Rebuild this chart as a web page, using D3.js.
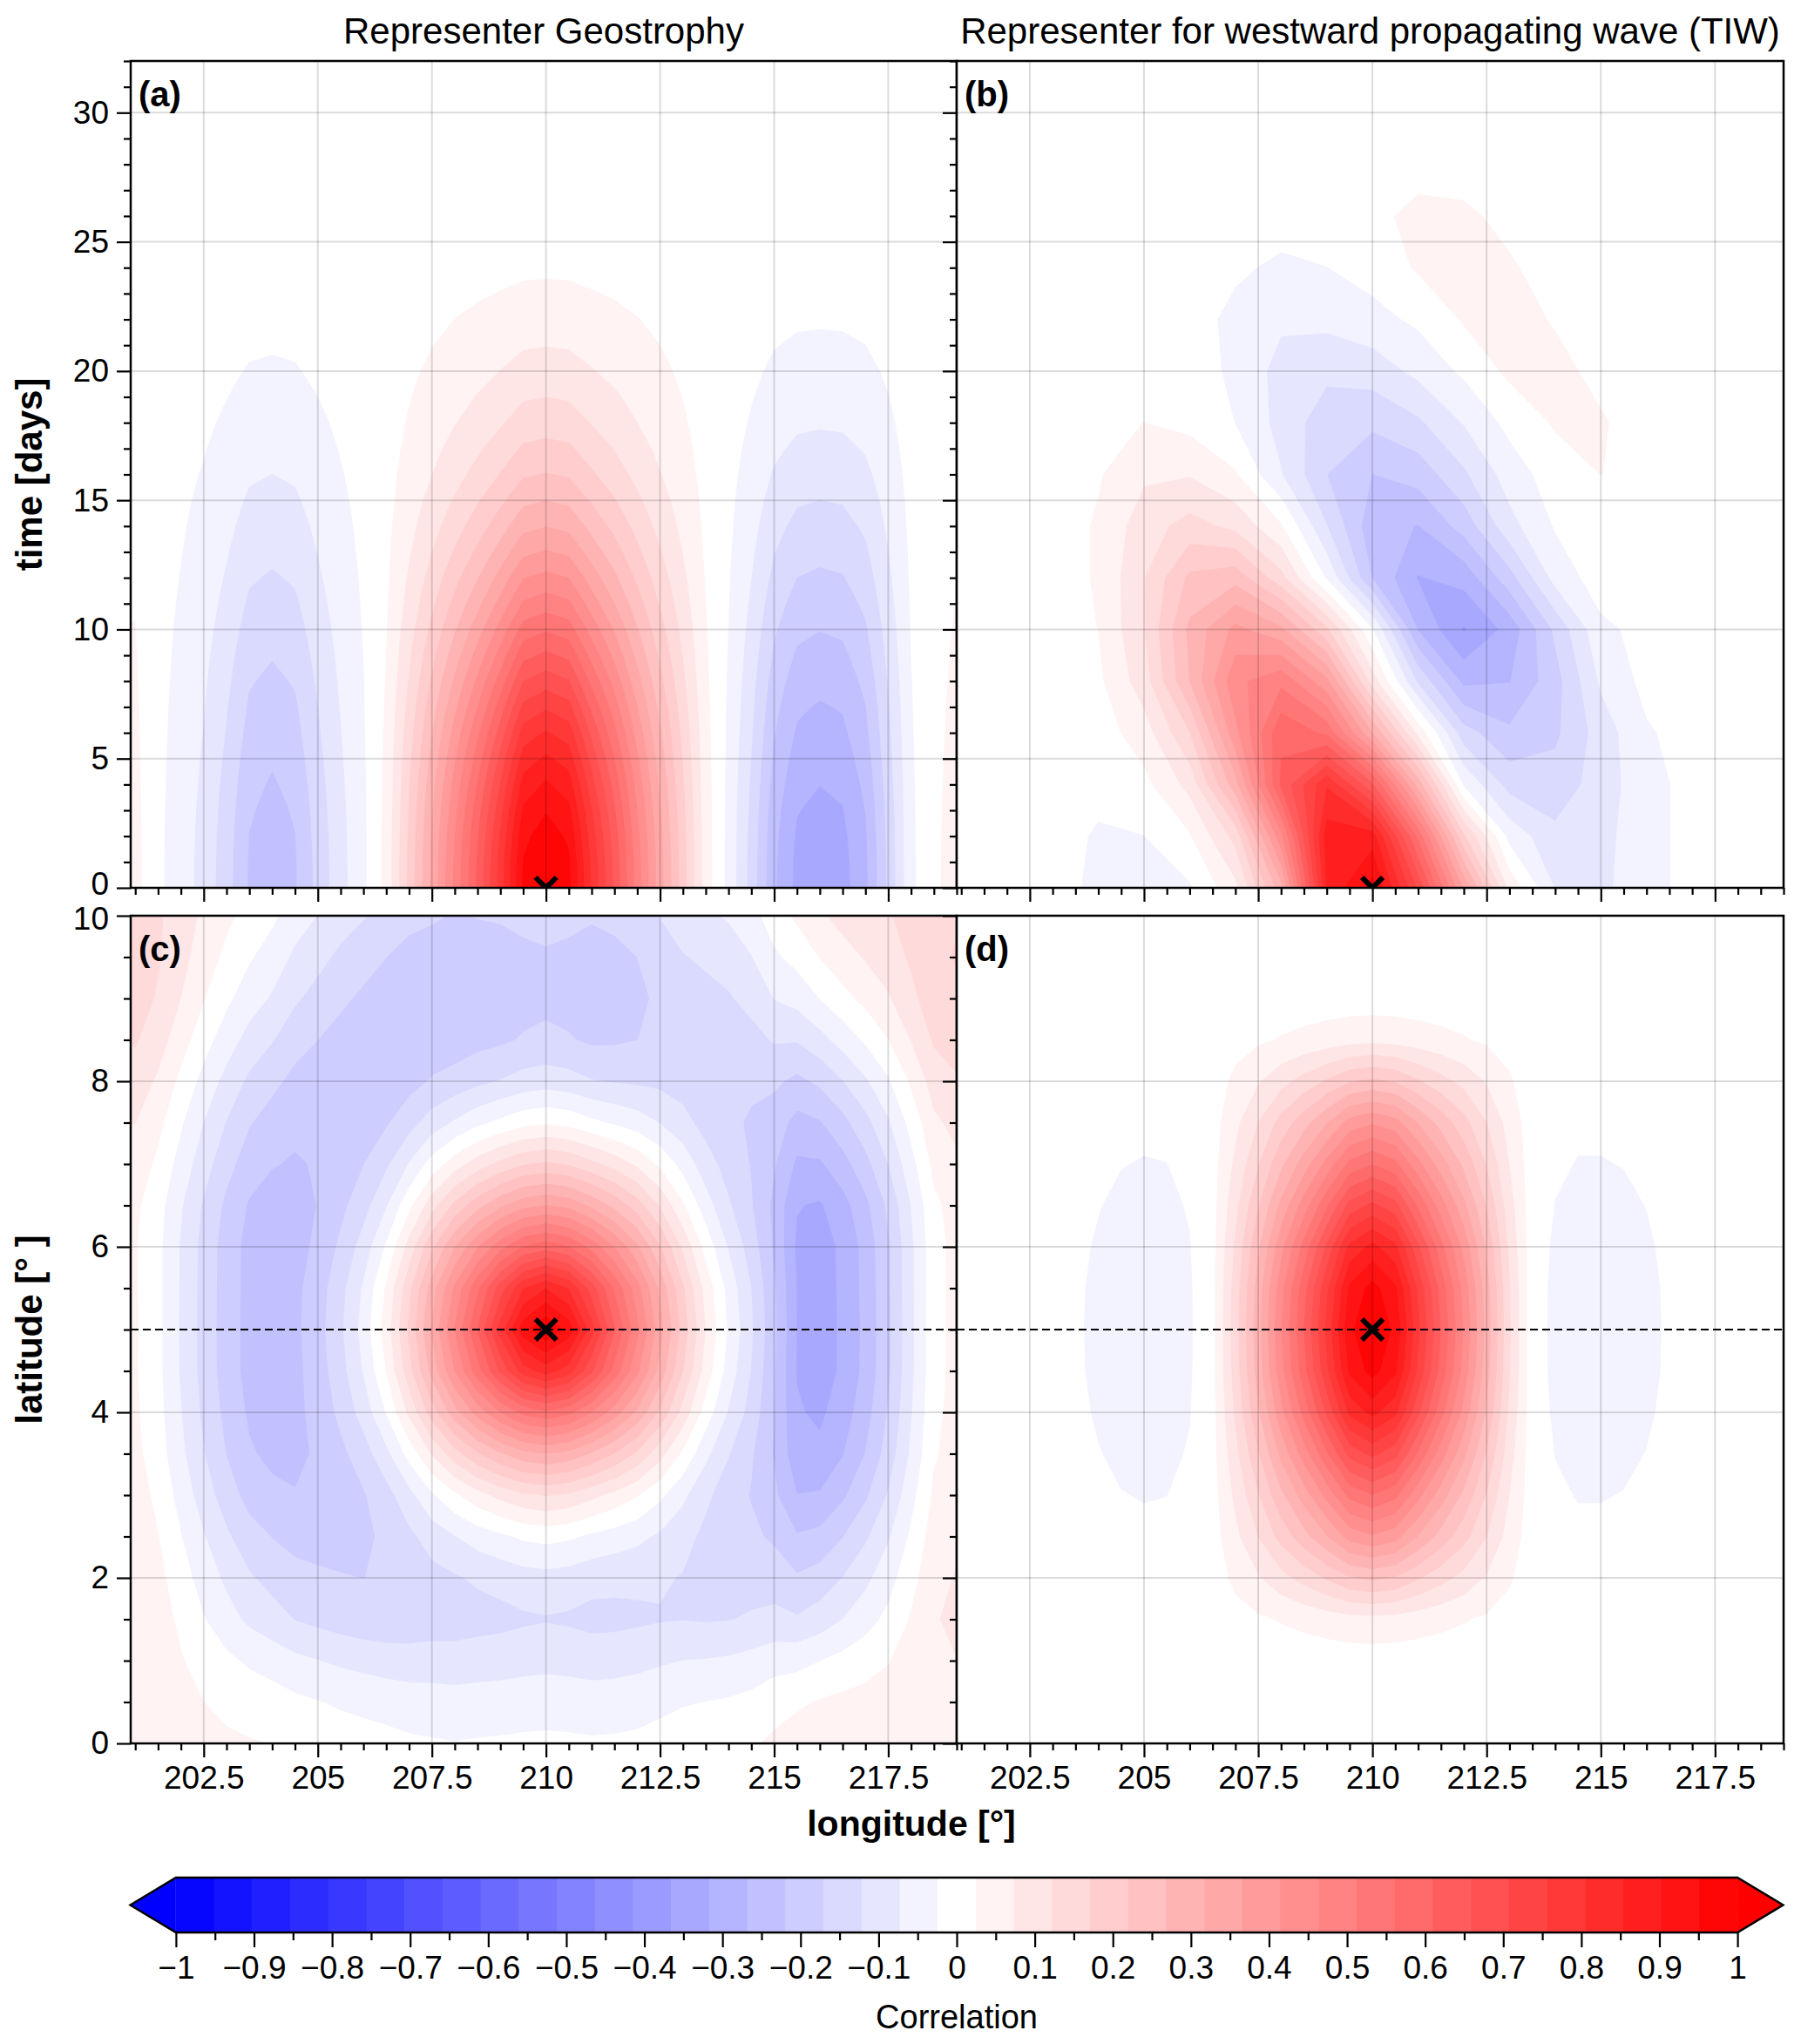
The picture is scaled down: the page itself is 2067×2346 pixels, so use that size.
<!DOCTYPE html>
<html lang="en">
<head>
<meta charset="UTF-8" />
<title>Representer correlations</title>
<script src="https://d3js.org/d3.v7.min.js"></script>
<style>
  body { margin: 0; background: #fff; }
  svg { display: block; font-family: "Liberation Sans", Arial, Helvetica, sans-serif; }
</style>
</head>
<body>
<svg width="2067" height="2346"></svg>
<script>
// ---- grids ----
const lonFine = [201, 201.5, 202, 202.5, 203, 203.5, 204, 204.5, 205, 205.5, 206, 206.5, 207, 207.5, 208, 208.5, 209, 209.5,
  210, 210.5, 211, 211.5, 212, 212.5, 213, 213.5, 214, 214.5, 215, 215.5, 216, 216.5, 217, 217.5, 218, 218.5, 219];
const lonCoarse = [201, 202, 203, 204, 205, 206, 207, 208, 209, 210, 211, 212, 213, 214, 215, 216, 217, 218, 219];
const timeFine = [0, 1, 2, 3, 4, 5, 6, 7, 8, 9, 10, 11, 12, 13, 14, 15, 16, 17, 18, 19, 20, 21, 22, 23, 24, 25, 26, 27, 28, 29, 30, 31, 32];
const timeCoarse = [0, 2, 4, 6, 8, 10, 12, 14, 16, 18, 20, 22, 24, 26, 28, 30, 32];
const latFine = [0, 0.5, 1, 1.5, 2, 2.5, 3, 3.5, 4, 4.5, 5, 5.5, 6, 6.5, 7, 7.5, 8, 8.5, 9, 9.5, 10];

// ---- (a) geostrophy, lon x time: central lobe and side lobes ----
const aPeakLon = [0, 0, 0, 0, 0, 0, 0, 0, 0, 0, 0, 0.04, 0.185, 0.33, 0.475, 0.62, 0.78, 0.96, 1.0, 0.965, 0.80, 0.65,
  0.49, 0.34, 0.195, 0.05, 0, 0, 0, 0, 0, 0, 0, 0, 0, 0, 0];
const aLobeLon = [0.04, -0.015, -0.05, -0.09, -0.15, -0.225, -0.245, -0.225, -0.155, -0.09, -0.035, 0,
  0, 0, 0, 0, 0, 0, 0, 0, 0, 0, 0, 0, 0, 0,
  -0.04, -0.14, -0.26, -0.33, -0.345, -0.335, -0.28, -0.16, -0.035, 0.015, 0.045];
const aPeakTime = [1.0, 0.994, 0.977, 0.948, 0.91, 0.863, 0.81, 0.75, 0.686, 0.62, 0.556, 0.49, 0.43, 0.37, 0.316, 0.268,
  0.222, 0.185, 0.15, 0.122, 0.095, 0.072, 0.052, 0.033, 0.018, 0.008, 0.003, 0, 0, 0, 0, 0, 0];
const aLobeTime = [1, 0.995, 0.98, 0.953, 0.917, 0.875, 0.83, 0.79, 0.74, 0.685, 0.632, 0.575, 0.518, 0.462, 0.408, 0.354,
  0.3, 0.248, 0.2, 0.158, 0.12, 0.088, 0.06, 0.038, 0.02, 0.008, 0.002, 0, 0, 0, 0, 0, 0];

// ---- (b) westward wave, rows = timeCoarse, cols = lonCoarse ----
const bRows = [
  [0, 0, -0.015, -0.03, -0.04, -0.03, 0.06, 0.30, 0.86, 0.97, 0.70, 0.36, 0.06, -0.075, -0.085, -0.04, -0.01, 0, 0],
  [0, 0, -0.005, -0.03, -0.025, 0.02, 0.14, 0.45, 0.88, 0.88, 0.55, 0.18, -0.04, -0.11, -0.09, -0.04, -0.01, 0, 0],
  [0, 0, 0, -0.01, 0.01, 0.09, 0.30, 0.62, 0.80, 0.62, 0.30, -0.03, -0.14, -0.15, -0.10, -0.04, -0.01, 0, 0],
  [0, 0, 0, 0, 0.05, 0.17, 0.40, 0.60, 0.55, 0.32, 0.06, -0.15, -0.21, -0.18, -0.10, -0.03, -0.005, 0, 0],
  [0, 0, 0, 0.015, 0.10, 0.27, 0.45, 0.50, 0.38, 0.10, -0.13, -0.28, -0.27, -0.19, -0.065, -0.01, 0, 0, 0],
  [0, 0, 0, 0.025, 0.12, 0.28, 0.38, 0.33, 0.18, -0.02, -0.27, -0.37, -0.30, -0.16, -0.035, -0.01, 0, 0, 0],
  [0, 0, 0, 0.03, 0.12, 0.23, 0.25, 0.14, -0.03, -0.22, -0.32, -0.30, -0.19, -0.055, 0, 0, 0, 0, 0],
  [0, 0, 0, 0.03, 0.10, 0.14, 0.11, 0.03, -0.12, -0.25, -0.27, -0.20, -0.09, -0.02, 0, 0, 0, 0, 0],
  [0, 0, 0, 0.02, 0.065, 0.07, 0.03, -0.07, -0.17, -0.22, -0.20, -0.13, -0.05, 0, 0.025, 0.01, 0, 0, 0],
  [0, 0, 0, 0.01, 0.025, 0.01, -0.025, -0.09, -0.15, -0.16, -0.13, -0.07, -0.01, 0.03, 0.03, 0, 0, 0, 0],
  [0, 0, 0, 0, 0, 0, -0.035, -0.09, -0.11, -0.10, -0.06, -0.015, 0.035, 0.04, 0.01, 0, 0, 0, 0],
  [0, 0, 0, 0, 0, 0, -0.04, -0.065, -0.06, -0.04, -0.015, 0.03, 0.045, 0.02, 0, 0, 0, 0, 0],
  [0, 0, 0, 0, 0, 0, -0.015, -0.035, -0.025, -0.005, 0.03, 0.045, 0.03, 0.005, 0, 0, 0, 0, 0],
  [0, 0, 0, 0, 0, 0, 0, 0, 0, 0.015, 0.035, 0.033, 0.012, 0, 0, 0, 0, 0, 0],
  [0, 0, 0, 0, 0, 0, 0, 0, 0, 0, 0.01, 0.005, 0, 0, 0, 0, 0, 0, 0],
  [0, 0, 0, 0, 0, 0, 0, 0, 0, 0, 0, 0, 0, 0, 0, 0, 0, 0, 0],
  [0, 0, 0, 0, 0, 0, 0, 0, 0, 0, 0, 0, 0, 0, 0, 0, 0, 0, 0]
];

// ---- (c) geostrophy, lon x lat: broad + sharp positive blob, negative bowl, edge lobes ----
const cBroadLon = [0.002, 0.004, 0.008, 0.014, 0.025, 0.042, 0.068, 0.107, 0.16, 0.231, 0.32, 0.428, 0.549, 0.679, 0.809,
  0.925, 1.019, 1.079, 1.1, 1.079, 1.019, 0.925, 0.809, 0.679, 0.549, 0.428, 0.32, 0.231, 0.16, 0.107, 0.068, 0.042,
  0.025, 0.014, 0.008, 0.004, 0.002];
const cBroadLat = [0.003, 0.008, 0.023, 0.055, 0.119, 0.228, 0.389, 0.588, 0.79, 0.943, 1, 0.952, 0.821, 0.641, 0.454,
  0.291, 0.169, 0.089, 0.042, 0.018, 0.007];
const cSharpLon = [0, 0, 0, 0, 0, 0, 0, 0, 0, 0, 0, 0, 0, 0.003, 0.017, 0.056, 0.134, 0.225, 0.268, 0.225, 0.134, 0.056,
  0.017, 0.003, 0, 0, 0, 0, 0, 0, 0, 0, 0, 0, 0, 0, 0];
const cSharpLat = [0, 0, 0, 0, 0, 0, 0, 0.008, 0.119, 0.588, 1, 0.641, 0.169, 0.018, 0.001, 0, 0, 0, 0, 0, 0];
const cBowlLon = [0.028, -0.016, -0.086, -0.154, -0.22, -0.278, -0.313, -0.337, -0.35, -0.361, -0.375, -0.38, -0.368,
  -0.358, -0.36, -0.368, -0.375, -0.372, -0.37, -0.372, -0.375, -0.365, -0.35, -0.345, -0.348, -0.355, -0.35, -0.345,
  -0.368, -0.425, -0.408, -0.352, -0.28, -0.194, -0.093, 0.004, 0.038];
const cBowlLat = [0.07, 0.17, 0.33, 0.53, 0.62, 0.72, 0.83, 0.90, 0.95, 0.99, 1, 0.99, 0.97, 0.93, 0.88, 0.84, 0.80,
  0.75, 0.68, 0.60, 0.50];
const cEdgeLon = [0.136, 0.137, 0.141, 0.141, 0.145, 0.147, 0.141, 0.118, 0.1, 0.08, 0.067, 0.05, 0.024, 0.01, 0.0,
  0.009, 0.015, 0.021, 0.025, 0.021, 0.015, 0.018, 0.025, 0.048, 0.074, 0.092, 0.105, 0.128, 0.185, 0.245, 0.27, 0.265,
  0.245, 0.215, 0.185, 0.16, 0.15];
const cEdgeLat = [0.32, 0.36, 0.4, 0.42, 0.35, 0.27, 0.18, 0.08, 0.03, 0, 0, 0, 0, 0.05, 0.2, 0.37, 0.57, 0.78, 0.93,
  1.0, 1.0];

// ---- (d) westward wave, lon x lat ----
const dLon = [0, 0, 0, 0, -0.008, -0.02, -0.032, -0.042, -0.046, -0.044, -0.03, 0.01, 0.15, 0.30, 0.46, 0.61, 0.77, 0.94,
  1, 0.94, 0.77, 0.61, 0.46, 0.30, 0.13, -0.005, -0.035, -0.046, -0.046, -0.042, -0.033, -0.02, -0.008, 0, 0, 0, 0];
const dLat = [0, 0, 0, 0.06, 0.23, 0.41, 0.56, 0.72, 0.87, 0.97, 1, 0.97, 0.87, 0.72, 0.56, 0.41, 0.23, 0.06, 0, 0, 0];

// ---- ticks and labels ----
const lonTicks = [202.5, 205, 207.5, 210, 212.5, 215, 217.5];
const timeTicks = [0, 5, 10, 15, 20, 25, 30];
const latTicks = [0, 2, 4, 6, 8, 10];
const cbarTicks = [-1, -0.9, -0.8, -0.7, -0.6, -0.5, -0.4, -0.3, -0.2, -0.1, 0, 0.1, 0.2, 0.3, 0.4, 0.5, 0.6, 0.7, 0.8, 0.9, 1];
const titles = ["Representer Geostrophy", "Representer for westward propagating wave (TIW)"];
const crossLon = 210, crossTime = 0, crossLat = 5;

// ---- build tables ----
function separable(terms) {
  const nx = terms[0][0].length, ny = terms[0][1].length;
  const v = new Array(nx * ny).fill(0);
  terms.forEach(([fx, fy]) => {
    for (let j = 0; j < ny; j++)
      for (let i = 0; i < nx; i++) v[j * nx + i] += fx[i] * fy[j];
  });
  return v;
}
const fieldA = separable([[aPeakLon, aPeakTime], [aLobeLon, aLobeTime]]);
const fieldB = bRows.flat();
const fieldC = separable([[cBroadLon, cBroadLat], [cSharpLon, cSharpLat], [cBowlLon, cBowlLat], [cEdgeLon, cEdgeLat]]);
const fieldD = separable([[dLon, dLat]]);

// ---- colours: 41 bands between -1 and 1, bwr ----
const levels = d3.range(42).map(i => -1 + (2 * i) / 41);
const bwr = d3.scaleLinear().domain([-1, 0, 1]).range(["#0000ff", "#ffffff", "#ff0000"]);
const bandColors = d3.range(41).map(i => bwr((levels[i] + levels[i + 1]) / 2));

const svg = d3.select("svg");
const lonDomain = [200.9, 219.0];
const colL = [150, 1098], colR = [1098, 2047];
const rowTop = [1019, 70], rowBot = [2001, 1051];
const tickFont = 37;

const panels = [
  { id: "a", xr: colL, yr: rowTop, ydom: [0, 32], grid: fieldA, lon: lonFine, yv: timeFine,
    yMajor: timeTicks, yMinorStep: 1, cross: [crossLon, crossTime], xLabels: false, yLabels: true, dashed: false, nudge: [0, -4] },
  { id: "b", xr: colR, yr: rowTop, ydom: [0, 32], grid: fieldB, lon: lonCoarse, yv: timeCoarse,
    yMajor: timeTicks, yMinorStep: 1, cross: [crossLon, crossTime], xLabels: false, yLabels: false, dashed: false },
  { id: "c", xr: colL, yr: rowBot, ydom: [0, 10], grid: fieldC, lon: lonFine, yv: latFine,
    yMajor: latTicks, yMinorStep: 0.5, cross: [crossLon, crossLat], xLabels: true, yLabels: true, dashed: true, nudge: [10, 4] },
  { id: "d", xr: colR, yr: rowBot, ydom: [0, 10], grid: fieldD, lon: lonFine, yv: latFine,
    yMajor: latTicks, yMinorStep: 0.5, cross: [crossLon, crossLat], xLabels: true, yLabels: false, dashed: true }
];

const defs = svg.append("defs");

function styleAxis(g, size) {
  g.select(".domain").remove();
  g.selectAll(".tick line").attr("stroke", "#000").attr("stroke-width", 2.2);
  g.selectAll(".tick text").attr("font-size", size).attr("fill", "#000").attr("font-family", null);
}

panels.forEach(p => {
  const x = d3.scaleLinear().domain(lonDomain).range(p.xr);
  const y = d3.scaleLinear().domain(p.ydom).range(p.yr);
  const g = svg.append("g");

  defs.append("clipPath").attr("id", "clip-" + p.id)
    .append("rect")
    .attr("x", p.xr[0]).attr("y", p.yr[1])
    .attr("width", p.xr[1] - p.xr[0]).attr("height", p.yr[0] - p.yr[1]);
  const plot = g.append("g").attr("clip-path", `url(#clip-${p.id})`);

  // filled contours
  const nx = p.lon.length, ny = p.yv.length;
  const dlon = p.lon[1] - p.lon[0], dyv = p.yv[1] - p.yv[0];
  const proj = d3.geoTransform({
    point(px, py) {
      this.stream.point(x(p.lon[0] + (px - 0.5) * dlon), y(p.yv[0] + (py - 0.5) * dyv));
    }
  });
  const path = d3.geoPath(proj);
  const bands = d3.contours().size([nx, ny]).thresholds(levels.slice(0, 41))(p.grid);
  plot.selectAll("path.band")
    .data(bands)
    .join("path")
    .attr("class", "band")
    .attr("d", path)
    .attr("fill", (d, i) => bandColors[i]);

  // grid lines
  plot.selectAll("line.gx").data(lonTicks).join("line")
    .attr("x1", d => x(d)).attr("x2", d => x(d))
    .attr("y1", p.yr[0]).attr("y2", p.yr[1])
    .attr("stroke", "#000").attr("stroke-opacity", 0.14).attr("stroke-width", 2);
  plot.selectAll("line.gy").data(p.yMajor.filter(v => v > p.ydom[0] && v < p.ydom[1])).join("line")
    .attr("x1", p.xr[0]).attr("x2", p.xr[1])
    .attr("y1", d => y(d)).attr("y2", d => y(d))
    .attr("stroke", "#000").attr("stroke-opacity", 0.14).attr("stroke-width", 2);

  if (p.dashed) {
    plot.append("line")
      .attr("x1", p.xr[0]).attr("x2", p.xr[1])
      .attr("y1", y(crossLat)).attr("y2", y(crossLat))
      .attr("stroke", "#000").attr("stroke-width", 2).attr("stroke-dasharray", "9,5");
  }

  // cross marker
  const cx = x(p.cross[0]), cy = y(p.cross[1]), r = 12;
  plot.append("path")
    .attr("d", `M${cx - r},${cy - r}L${cx + r},${cy + r}M${cx - r},${cy + r}L${cx + r},${cy - r}`)
    .attr("stroke", "#000").attr("stroke-width", 6).attr("fill", "none");

  // frame
  g.append("rect")
    .attr("x", p.xr[0]).attr("y", p.yr[1])
    .attr("width", p.xr[1] - p.xr[0]).attr("height", p.yr[0] - p.yr[1])
    .attr("fill", "none").attr("stroke", "#000").attr("stroke-width", 2.5);

  // bottom axis
  const lonMinor = d3.range(201, 219.01, 0.5).filter(v => !lonTicks.includes(v));
  g.append("g").attr("transform", `translate(0,${p.yr[0]})`)
    .call(d3.axisBottom(x).tickValues(lonMinor).tickSize(8).tickFormat(""))
    .call(a => styleAxis(a, tickFont));
  g.append("g").attr("transform", `translate(0,${p.yr[0]})`)
    .call(d3.axisBottom(x).tickValues(lonTicks).tickSize(16).tickPadding(10)
      .tickFormat(p.xLabels ? d3.format("~g") : ""))
    .call(a => styleAxis(a, tickFont));

  // left axis
  const yMinor = d3.range(p.ydom[0], p.ydom[1] + 0.001, p.yMinorStep).filter(v => !p.yMajor.includes(v));
  g.append("g").attr("transform", `translate(${p.xr[0]},0)`)
    .call(d3.axisLeft(y).tickValues(yMinor).tickSize(8).tickFormat(""))
    .call(a => styleAxis(a, tickFont));
  const yAx = g.append("g").attr("transform", `translate(${p.xr[0]},0)`)
    .call(d3.axisLeft(y).tickValues(p.yMajor).tickSize(16).tickPadding(9)
      .tickFormat(p.yLabels ? d3.format("~g") : ""))
    .call(a => styleAxis(a, tickFont));
  // keep the touching "0" (a) and "10" (c) labels apart
  if (p.nudge) {
    yAx.selectAll(".tick text").filter(d => d === p.nudge[0])
      .attr("transform", `translate(0,${p.nudge[1]})`);
  }

  // panel letter
  svg.append("text")
    .attr("x", p.xr[0] + 9).attr("y", p.yr[1] + 52)
    .attr("font-size", 40).attr("font-weight", "bold")
    .text(`(${p.id})`);
});

// titles
[colL, colR].forEach((c, i) => {
  svg.append("text")
    .attr("x", (c[0] + c[1]) / 2).attr("y", 50)
    .attr("text-anchor", "middle").attr("font-size", 42)
    .text(titles[i]);
});

// axis labels
svg.append("text")
  .attr("transform", `translate(48,${(rowTop[0] + rowTop[1]) / 2}) rotate(-90)`)
  .attr("text-anchor", "middle").attr("font-size", 42).attr("font-weight", "bold")
  .text("time [days]");
svg.append("text")
  .attr("transform", `translate(48,${(rowBot[0] + rowBot[1]) / 2}) rotate(-90)`)
  .attr("text-anchor", "middle").attr("font-size", 42).attr("font-weight", "bold")
  .text("latitude [° ]");
svg.append("text")
  .attr("x", 1046).attr("y", 2107)
  .attr("text-anchor", "middle").attr("font-size", 41).attr("font-weight", "bold")
  .text("longitude [°]");

// colorbar
const cb = d3.scaleLinear().domain([-1, 1]).range([201.9, 1994.1]);
const cbTop = 2155, cbBot = 2218, cbMid = (cbTop + cbBot) / 2;
const cbg = svg.append("g");
cbg.selectAll("rect.cbin").data(d3.range(41)).join("rect")
  .attr("class", "cbin")
  .attr("x", i => cb(levels[i])).attr("width", i => cb(levels[i + 1]) - cb(levels[i]) + 0.6)
  .attr("y", cbTop).attr("height", cbBot - cbTop)
  .attr("fill", i => bandColors[i]);
cbg.append("path")
  .attr("d", `M${cb(-1)},${cbTop}L149.6,${cbMid}L${cb(-1)},${cbBot}Z`)
  .attr("fill", bwr(-1));
cbg.append("path")
  .attr("d", `M${cb(1)},${cbTop}L2046.4,${cbMid}L${cb(1)},${cbBot}Z`)
  .attr("fill", bwr(1));
cbg.append("path")
  .attr("d", `M${cb(-1)},${cbTop}L${cb(1)},${cbTop}L2046.4,${cbMid}L${cb(1)},${cbBot}L${cb(-1)},${cbBot}L149.6,${cbMid}Z`)
  .attr("fill", "none").attr("stroke", "#000").attr("stroke-width", 2.5).attr("stroke-linejoin", "miter");
const cbMinor = d3.range(-0.95, 1, 0.1);
cbg.append("g").attr("transform", `translate(0,${cbBot})`)
  .call(d3.axisBottom(cb).tickValues(cbMinor).tickSize(9).tickFormat(""))
  .call(a => styleAxis(a, tickFont));
cbg.append("g").attr("transform", `translate(0,${cbBot})`)
  .call(d3.axisBottom(cb).tickValues(cbarTicks).tickSize(17).tickPadding(10).tickFormat(d3.format("~g")))
  .call(a => styleAxis(a, tickFont));
cbg.append("text")
  .attr("x", 1098).attr("y", 2328)
  .attr("text-anchor", "middle").attr("font-size", 38)
  .text("Correlation");
</script>
</body>
</html>
